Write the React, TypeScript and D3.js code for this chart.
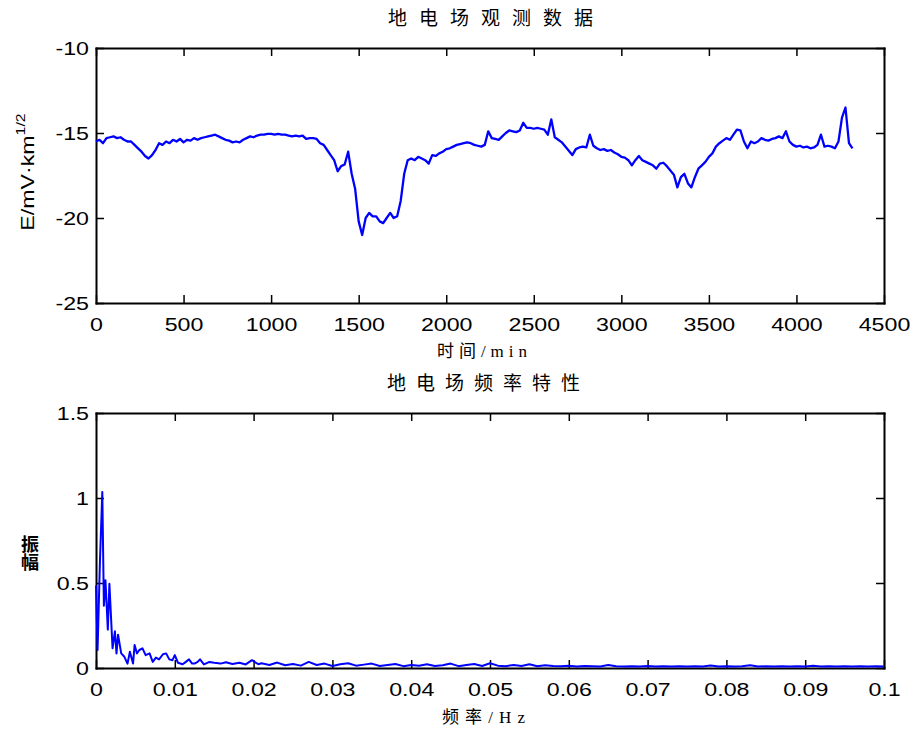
import React, { useEffect, useRef } from 'react';
import * as d3 from 'd3';

// geoelectric field, one reading every 20 min
const sampleStepMin = 20;
const fieldValues = [
  -15.5, -15.4, -15.6, -15.3, -15.25, -15.2, -15.3, -15.25, -15.4, -15.5,
  -15.5, -15.7, -15.9, -16.1, -16.35, -16.5, -16.3, -16.0, -15.6, -15.7,
  -15.5, -15.6, -15.4, -15.5, -15.35, -15.55, -15.4, -15.45, -15.3, -15.4,
  -15.3, -15.25, -15.2, -15.15, -15.1, -15.2, -15.3, -15.4, -15.45, -15.55,
  -15.5, -15.55, -15.4, -15.3, -15.2, -15.25, -15.15, -15.1, -15.1, -15.05,
  -15.05, -15.1, -15.05, -15.1, -15.1, -15.15, -15.2, -15.15, -15.2, -15.15,
  -15.35, -15.3, -15.3, -15.35, -15.6, -15.7, -16.0, -16.3, -16.6, -17.25,
  -16.95, -16.85, -16.1, -17.4, -18.3, -20.2, -21.0, -20.0, -19.7, -19.9,
  -19.9, -20.2, -20.3, -20.0, -19.7, -20.0, -19.9, -19.0, -17.4, -16.6,
  -16.5, -16.6, -16.4, -16.5, -16.6, -16.8, -16.3, -16.35, -16.2, -16.1,
  -15.95, -15.9, -15.8, -15.7, -15.65, -15.6, -15.55, -15.6, -15.7, -15.75,
  -15.8, -15.7, -14.9, -15.3, -15.35, -15.4, -15.2, -15.0, -14.85, -14.9,
  -14.95, -14.85, -14.4, -14.7, -14.7, -14.75, -14.7, -14.75, -14.8, -15.1,
  -14.2, -15.25, -15.4, -15.55, -15.8, -16.05, -16.3, -15.95, -15.85, -15.8,
  -15.85, -15.1, -15.75, -15.9, -16.0, -15.95, -16.05, -16.0, -16.15, -16.25,
  -16.4, -16.45, -16.6, -16.9, -16.6, -16.35, -16.6, -16.7, -16.8, -16.9,
  -17.1, -16.8, -16.75, -16.95, -17.2, -17.45, -18.2, -17.6, -17.4, -17.95,
  -18.2, -17.6, -17.1, -16.9, -16.7, -16.4, -16.2, -15.8, -15.6, -15.45,
  -15.3, -15.4, -15.1, -14.8, -14.85, -15.5, -15.9, -15.5, -15.6, -15.5,
  -15.3, -15.4, -15.45, -15.35, -15.3, -15.2, -15.3, -14.9, -15.5, -15.7,
  -15.8, -15.75, -15.85, -15.8, -15.9, -15.85, -15.7, -15.1, -15.8, -15.75,
  -15.8, -15.9, -15.5, -14.1, -13.5, -15.6, -15.9,
];

// amplitude spectrum: [frequency Hz, amplitude]
const spectrum: [number, number][] = [
  [0, 0.48], [0.0002, 0.1], [0.0005, 0.62], [0.0008, 1.03], [0.001, 0.36], [0.0012, 0.51],
  [0.0015, 0.22], [0.0017, 0.49], [0.0021, 0.11], [0.0024, 0.21], [0.0026, 0.08],
  [0.0028, 0.19], [0.0032, 0.08], [0.0036, 0.06], [0.004, 0.02], [0.0043, 0.09],
  [0.0047, 0.02], [0.0049, 0.13], [0.0052, 0.08], [0.0055, 0.1], [0.0059, 0.11],
  [0.0063, 0.07], [0.0068, 0.08], [0.0072, 0.03], [0.0076, 0.055], [0.008, 0.045],
  [0.0085, 0.075], [0.0089, 0.08], [0.0093, 0.045], [0.0097, 0.04], [0.01, 0.07],
  [0.0104, 0.025], [0.011, 0.016], [0.0114, 0.03], [0.0118, 0.045], [0.0122, 0.02],
  [0.0125, 0.02], [0.0129, 0.03], [0.0132, 0.045], [0.0137, 0.015], [0.0144, 0.03],
  [0.015, 0.025], [0.0158, 0.02], [0.0165, 0.028], [0.0173, 0.018], [0.0182, 0.025],
  [0.019, 0.015], [0.0198, 0.04], [0.0206, 0.016],
  [0.021, 0.022], [0.022, 0.012], [0.023, 0.026], [0.024, 0.01], [0.025, 0.018],
  [0.026, 0.008], [0.027, 0.03], [0.028, 0.012], [0.029, 0.02], [0.03, 0.006],
  [0.031, 0.016], [0.032, 0.022], [0.033, 0.008], [0.034, 0.014], [0.035, 0.02],
  [0.036, 0.006], [0.037, 0.012], [0.038, 0.018], [0.039, 0.005], [0.04, 0.012],
  [0.041, 0.008], [0.042, 0.016], [0.043, 0.006], [0.044, 0.01], [0.045, 0.02],
  [0.046, 0.005], [0.047, 0.012], [0.048, 0.018], [0.049, 0.006], [0.05, 0.022],
  [0.051, 0.008], [0.052, 0.005], [0.053, 0.012], [0.054, 0.006], [0.055, 0.016],
  [0.056, 0.004], [0.057, 0.01], [0.058, 0.006], [0.059, 0.004], [0.06, 0.008],
  [0.061, 0.003], [0.062, 0.006], [0.063, 0.004], [0.064, 0.003], [0.065, 0.012],
  [0.066, 0.004], [0.067, 0.003], [0.068, 0.005], [0.069, 0.003], [0.07, 0.006],
  [0.071, 0.003], [0.072, 0.004], [0.073, 0.003], [0.074, 0.005], [0.075, 0.003],
  [0.076, 0.004], [0.077, 0.003], [0.078, 0.009], [0.079, 0.003], [0.08, 0.004],
  [0.081, 0.003], [0.082, 0.005], [0.083, 0.01], [0.084, 0.003], [0.085, 0.004],
  [0.086, 0.003], [0.087, 0.005], [0.088, 0.003], [0.089, 0.004], [0.09, 0.003],
  [0.091, 0.008], [0.092, 0.003], [0.093, 0.004], [0.094, 0.003], [0.095, 0.005],
  [0.096, 0.003], [0.097, 0.004], [0.098, 0.003], [0.099, 0.004], [0.1, 0.003],
];

const timeTicks = [0, 500, 1000, 1500, 2000, 2500, 3000, 3500, 4000, 4500];
const fieldTicks = [-25, -20, -15, -10];
const freqTicks = [0, 0.01, 0.02, 0.03, 0.04, 0.05, 0.06, 0.07, 0.08, 0.09, 0.1];
const ampTicks = [0, 0.5, 1, 1.5];

const topTitle = '地电场观测数据';
const bottomTitle = '地电场频率特性';

const App = () => {
  const svgRef = useRef<SVGSVGElement>(null);

  useEffect(() => {
    const svg = d3.select(svgRef.current);
    svg.selectAll('*').remove();
    svg.append('rect').attr('width', 914).attr('height', 731).attr('fill', '#fff');

    const tickFont = "'Liberation Sans', Arial, sans-serif";
    const cjkFont = "'Noto Sans CJK SC', sans-serif";
    const labelFont = "'Liberation Serif', 'Noto Sans CJK SC', serif";
    const left = 96, right = 884;

    const xTime = d3.scaleLinear().domain([0, 4500]).range([left, right]);
    const yField = d3.scaleLinear().domain([-25, -10]).range([303, 48]);
    const xFreq = d3.scaleLinear().domain([0, 0.1]).range([left, right]);
    const yAmp = d3.scaleLinear().domain([0, 1.5]).range([668, 413]);

    const fmt = (d: any) => String(d);
    const none = () => '';

    const drawBox = (x: any, y: any, xTicks: number[], yTicks: number[]) => {
      const [y0, y1] = y.range();
      const g = svg.append('g');
      g.append('g').attr('transform', `translate(0,${y0})`)
        .call(d3.axisBottom(x).tickValues(xTicks).tickSize(-8).tickSizeOuter(0).tickPadding(15).tickFormat(fmt));
      g.append('g').attr('transform', `translate(0,${y1})`)
        .call(d3.axisTop(x).tickValues(xTicks).tickSize(-8).tickSizeOuter(0).tickFormat(none));
      g.append('g').attr('transform', `translate(${left},0)`)
        .call(d3.axisLeft(y).tickValues(yTicks).tickSize(-8).tickSizeOuter(0).tickPadding(7).tickFormat(fmt));
      g.append('g').attr('transform', `translate(${right},0)`)
        .call(d3.axisRight(y).tickValues(yTicks).tickSize(-8).tickSizeOuter(0).tickFormat(none));
      g.selectAll('.domain').attr('stroke', '#000').attr('stroke-width', 2).attr('stroke-linecap', 'square');
      g.selectAll('.tick line').attr('stroke', '#000').attr('stroke-width', 1.5);
      g.selectAll('.tick text')
        .attr('fill', '#000')
        .attr('font-family', tickFont)
        .attr('font-size', 19)
        .classed('stretch', true);
    };

    drawBox(xTime, yField, timeTicks, fieldTicks);
    drawBox(xFreq, yAmp, freqTicks, ampTicks);

    // data lines drawn over the axes
    const fieldLine = d3.line<number>()
      .x((d, i) => xTime(i * sampleStepMin))
      .y((d) => yField(d));
    svg.append('path')
      .datum(fieldValues)
      .attr('d', fieldLine)
      .attr('fill', 'none')
      .attr('stroke', '#0000ff')
      .attr('stroke-width', 2.3)
      .attr('stroke-linejoin', 'round');

    const specLine = d3.line<[number, number]>()
      .x((d) => xFreq(d[0]))
      .y((d) => yAmp(d[1]) - 1);
    svg.append('path')
      .datum(spectrum)
      .attr('d', specLine)
      .attr('fill', 'none')
      .attr('stroke', '#0000ff')
      .attr('stroke-width', 2)
      .attr('stroke-linejoin', 'round');

    // titles
    svg.append('text').text(topTitle)
      .attr('x', 388).attr('y', 25)
      .attr('font-family', cjkFont).attr('font-size', 19)
      .attr('letter-spacing', 12).attr('fill', '#000');
    svg.append('text').text(bottomTitle)
      .attr('x', 387).attr('y', 390)
      .attr('font-family', cjkFont).attr('font-size', 19)
      .attr('letter-spacing', 10).attr('fill', '#000');

    // x labels
    svg.append('text').text('时间/min')
      .attr('x', 437).attr('y', 357)
      .attr('font-family', labelFont).attr('font-size', 17)
      .attr('textLength', 90).attr('lengthAdjust', 'spacing').attr('fill', '#000');
    svg.append('text').text('频率/Hz')
      .attr('x', 442).attr('y', 723)
      .attr('font-family', labelFont).attr('font-size', 17)
      .attr('textLength', 83).attr('lengthAdjust', 'spacing').attr('fill', '#000');

    // y labels
    const yl = svg.append('text')
      .attr('transform', 'translate(34,172) rotate(-90)')
      .attr('text-anchor', 'middle')
      .attr('font-family', tickFont).attr('font-size', 19).attr('fill', '#000')
      .classed('stretch', true);
    yl.append('tspan').text('E/mV·km');
    yl.append('tspan').text('1/2').attr('font-size', 13).attr('dy', -9);

    svg.append('text').text('振幅')
      .attr('x', 30).attr('y', 553)
      .attr('text-anchor', 'middle')
      .style('writing-mode', 'vertical-rl')
      .attr('font-family', cjkFont).attr('font-size', 18).attr('font-weight', 'bold')
      .attr('fill', '#000');

    // the original figure renders Latin text noticeably wide
    svg.selectAll<SVGTextElement, unknown>('text.stretch').each(function () {
      const w = this.getComputedTextLength();
      if (w > 0) {
        this.setAttribute('textLength', String(w * 1.22));
        this.setAttribute('lengthAdjust', 'spacingAndGlyphs');
      }
    });
  }, []);

  return (
    <svg
      ref={svgRef}
      width={914}
      height={731}
      style={{ position: 'absolute', left: 0, top: 0, background: '#fff' }}
    />
  );
};

export default App;
